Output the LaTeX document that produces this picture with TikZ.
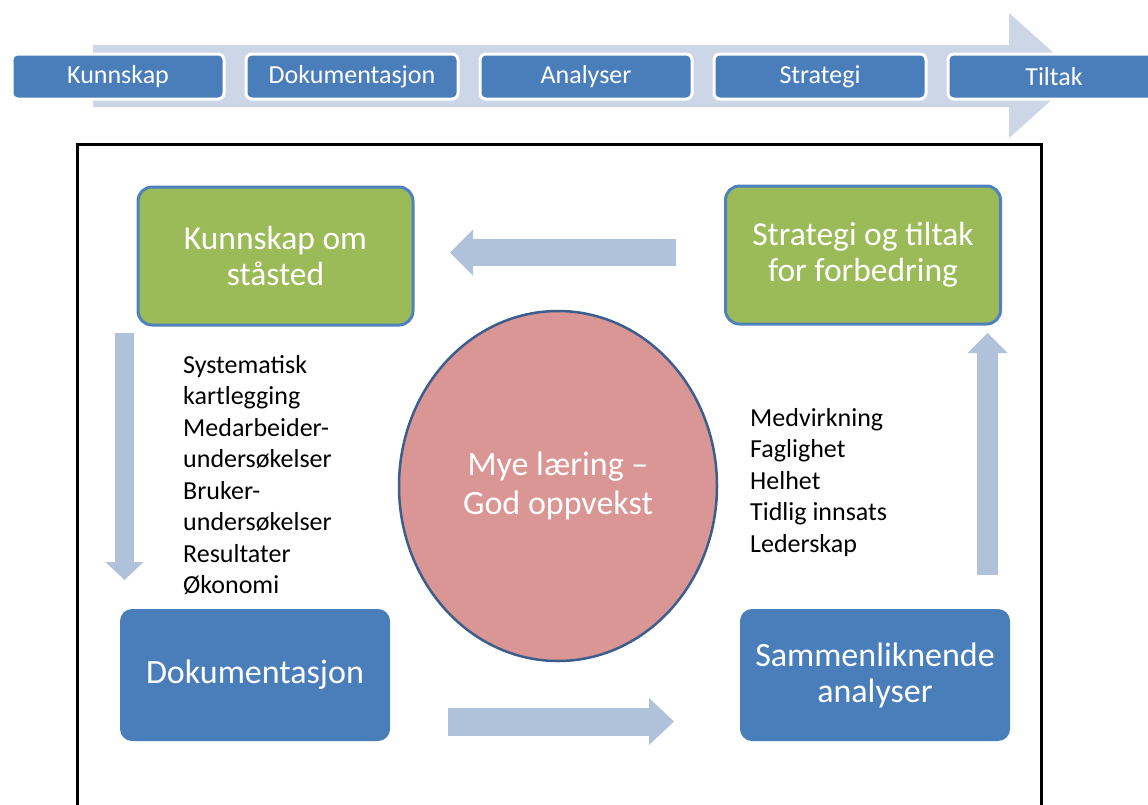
\documentclass[tikz,border=0pt]{standalone}
\usepackage{fontspec}
\setmainfont{Carlito}
\usetikzlibrary{arrows.meta,shapes.geometric}
\definecolor{bandc}{HTML}{CDD6E7}
\definecolor{boxblue}{HTML}{4A7EBB}
\definecolor{arrowc}{HTML}{B0C1DA}
\definecolor{greenc}{HTML}{9BBB59}
\definecolor{greenedge}{HTML}{4F81BD}
\definecolor{pinkc}{HTML}{D99694}
\definecolor{ellipseedge}{HTML}{3B5E8C}
\begin{document}
\begin{tikzpicture}[x=1pt,y=-1pt,
  topbox/.style={fill=boxblue, draw=white, line width=3pt, rounded corners=6pt,
    minimum width=212pt, minimum height=45pt, inner sep=0pt, text=white,
    font=\fontsize{26}{30}\selectfont},
  greenbox/.style={fill=greenc, draw=greenedge, line width=3pt, rounded corners=14pt,
    minimum width=275pt, minimum height=138pt, inner sep=0pt, text=white, align=center,
    font=\fontsize{33.5}{36}\selectfont},
  bluebox/.style={fill=boxblue, rounded corners=12pt,
    minimum width=270pt, minimum height=132pt, inner sep=0pt, text=white, align=center,
    font=\fontsize{34}{36}\selectfont},
  ell/.style={ellipse, fill=pinkc, draw=ellipseedge, line width=2.5pt,
    minimum width=318pt, minimum height=350pt, inner sep=0pt, text=white, align=center,
    font=\fontsize{34}{39}\selectfont},
  listtext/.style={inner sep=0pt, align=left, text=black,
    font=\fontsize{26}{31.5}\selectfont},
  blockarrow/.style n args={3}{draw=arrowc, line width=#1,
    -{Triangle[length=#3, width=#2, line width=0pt]}}
]
\useasboundingbox (0,0) rectangle (1148,804);
\clip (0,0) rectangle (1148,804);

% process band arrow
\fill[bandc] (93,45) -- (1009,45) -- (1009,13) -- (1079,75.5) -- (1009,138)
  -- (1009,107) -- (93,107) -- cycle;

% top steps
\node[topbox] (t1) at (118,76.5) {Kunnskap};
\node[topbox] (t2) at (352,76.5) {Dokumentasjon};
\node[topbox] (t3) at (586,76.5) {Analyser};
\node[topbox] (t4) at (820,76.5) {Strategi};
\node[topbox] (t5) at (1054,76.5) {Tiltak};

% frame
\draw[line width=3pt] (77.5,900) -- (77.5,144.5) -- (1041.5,144.5) -- (1041.5,900);

% cycle boxes
\node[greenbox] (kos) at (275.5,256) {Kunnskap om\\ståsted};
\node[greenbox] (sot) at (863,255) {Strategi og tiltak\\for forbedring};
\node[bluebox] (dok) at (255,675) {Dokumentasjon};
\node[bluebox] (sam) at (875,675) {Sammenliknende\\analyser};
\node[ell] (mye) at (558,486) {Mye læring –\\God oppvekst};

% lists
\node[listtext, anchor=north west] (kart) at (183,355)
  {Systematisk\\kartlegging\\Medarbeider-\\undersøkelser\\Bruker-\\undersøkelser\\Resultater\\Økonomi};
\node[listtext, anchor=north west] (verdi) at (750,408)
  {Medvirkning\\Faglighet\\Helhet\\Tidlig innsats\\Lederskap};

% block arrows
\coordinate (la) at (676,252.5);
\coordinate (lb) at (450,252.5);
\coordinate (da) at (124.5,333);
\coordinate (db) at (124.5,580);
\coordinate (ra) at (448,721.5);
\coordinate (rb) at (674,721.5);
\coordinate (ua) at (987.5,575);
\coordinate (ub) at (987.5,333);
\draw[blockarrow={27pt}{46pt}{23pt}] (la) -- (lb);
\draw[blockarrow={19.5pt}{38pt}{18pt}] (da) -- (db);
\draw[blockarrow={28pt}{47pt}{25pt}] (ra) -- (rb);
\draw[blockarrow={21pt}{40pt}{20pt}] (ua) -- (ub);
\end{tikzpicture}
\end{document}
